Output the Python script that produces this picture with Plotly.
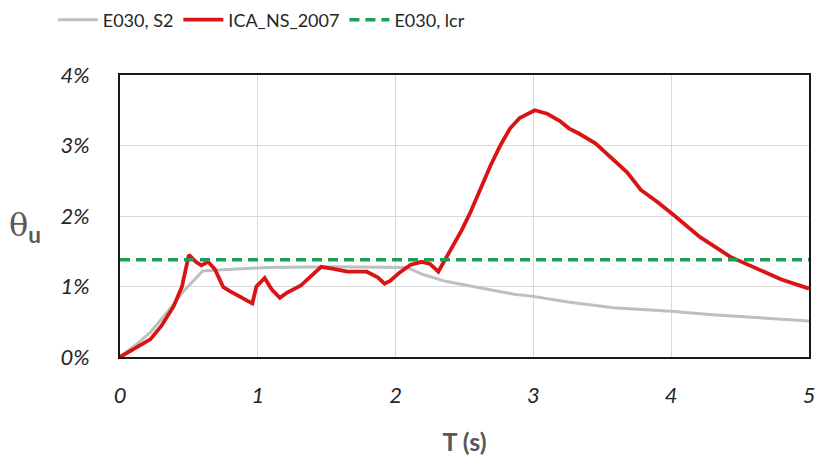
import plotly.graph_objects as go

# ---- data ----
t_s2 = [0, 0.12, 0.22, 0.34, 0.46, 0.6, 0.78, 1.07, 1.55, 1.98, 2.08, 2.2, 2.37,
        2.62, 2.86, 3.0, 3.25, 3.58, 4.0, 4.3, 4.67, 5.0]
theta_s2 = [0, 0.18, 0.35, 0.63, 0.93, 1.22, 1.24, 1.27, 1.28, 1.28, 1.27, 1.17, 1.07,
            0.98, 0.89, 0.86, 0.78, 0.70, 0.65, 0.60, 0.55, 0.51]

t_ica = [0, 0.1, 0.22, 0.3, 0.39, 0.45, 0.5, 0.55, 0.59, 0.64, 0.69, 0.75, 0.8, 0.96,
         0.99, 1.05, 1.1, 1.16, 1.21, 1.31, 1.38, 1.46, 1.55, 1.65, 1.79, 1.87, 1.92,
         1.96, 2.03, 2.11, 2.19, 2.25, 2.31, 2.37, 2.48, 2.54, 2.62, 2.69, 2.76, 2.83,
         2.9, 3.01, 3.1, 3.19, 3.26, 3.33, 3.45, 3.57, 3.68, 3.78, 3.9, 4.02, 4.21,
         4.43, 4.56, 4.8, 5.0]
theta_ica = [0, 0.11, 0.25, 0.44, 0.72, 1.0, 1.45, 1.35, 1.3, 1.35, 1.24, 0.99, 0.93,
             0.76, 1.0, 1.12, 0.96, 0.84, 0.91, 1.01, 1.14, 1.28, 1.25, 1.21, 1.21,
             1.13, 1.04, 1.08, 1.2, 1.31, 1.35, 1.32, 1.21, 1.42, 1.8, 2.04, 2.41,
             2.72, 3.0, 3.24, 3.39, 3.5, 3.45, 3.35, 3.24, 3.17, 3.03, 2.82, 2.62,
             2.37, 2.2, 2.01, 1.7, 1.42, 1.31, 1.1, 0.97]

t_lcr = [0, 5]
theta_lcr = [1.38, 1.38]

x_ticks = [0, 1, 2, 3, 4, 5]
y_ticks = [0, 0.01, 0.02, 0.03, 0.04]

FONT = "Lato"
CLEAR = "rgba(0,0,0,0)"

fig = go.Figure()
fig.add_trace(go.Scatter(x=t_s2, y=[v / 100 for v in theta_s2], mode="lines",
                         name="E030, S2", line=dict(color="#bfbfbf", width=3)))
fig.add_trace(go.Scatter(x=t_ica, y=[v / 100 for v in theta_ica], mode="lines",
                         name="ICA_NS_2007", line=dict(color="#d91414", width=3.8)))
fig.add_trace(go.Scatter(x=t_lcr, y=[v / 100 for v in theta_lcr], mode="lines",
                         name="E030, lcr",
                         line=dict(color="#1e9e55", width=3.5, dash="10px,6px")))

fig.update_layout(
    width=819, height=461,
    margin=dict(l=120, r=10, t=75, b=104, autoexpand=False),
    paper_bgcolor="white", plot_bgcolor="white",
    font=dict(family=FONT, color="#262626"),
    showlegend=True,
    legend=dict(orientation="h", x=0.205, xanchor="center", y=1.195, yanchor="middle",
                font=dict(family=FONT, size=18, color="#262626"),
                tracegroupgap=0, itemwidth=40),
    xaxis=dict(range=[0, 5], tickvals=x_ticks, ticktext=[str(v) for v in x_ticks],
               showgrid=True, gridcolor="#d9d9d9", gridwidth=1,
               showline=True, linecolor="#1a1a1a", linewidth=2, mirror=True,
               zeroline=False, ticks="outside", ticklen=18, tickcolor=CLEAR,
               automargin=False, ticklabeloverflow="allow",
               tickfont=dict(family=FONT, size=22, style="italic", color="#262626"),
               title=dict(text="T (s)", standoff=26,
                          font=dict(family=FONT, size=25, weight="bold", color="#595959"))),
    yaxis=dict(range=[0, 0.04], tickvals=y_ticks, tickformat=".0%",
               showgrid=True, gridcolor="#d9d9d9", gridwidth=1,
               showline=True, linecolor="#1a1a1a", linewidth=2, mirror=True,
               zeroline=False, ticks="outside", ticklen=24, tickcolor=CLEAR,
               automargin=False, ticklabeloverflow="allow",
               tickfont=dict(family=FONT, size=22, style="italic", color="#262626")),
    annotations=[dict(text="θ<sub><span style='font-family:Lato'><b>u</b></span></sub>",
                      xref="paper", yref="paper",
                      x=-0.164, y=0.46, xanchor="left", yanchor="middle",
                      showarrow=False,
                      font=dict(family="DejaVu Serif", size=32, color="#595959"))],
)

# remove the browser's default 8px body margin so the 819x461 figure fills the window
fig.write_html("out.html",
               config={"displayModeBar": False},
               post_script="document.body.style.margin='0';"
                           "document.body.style.overflow='hidden';")
